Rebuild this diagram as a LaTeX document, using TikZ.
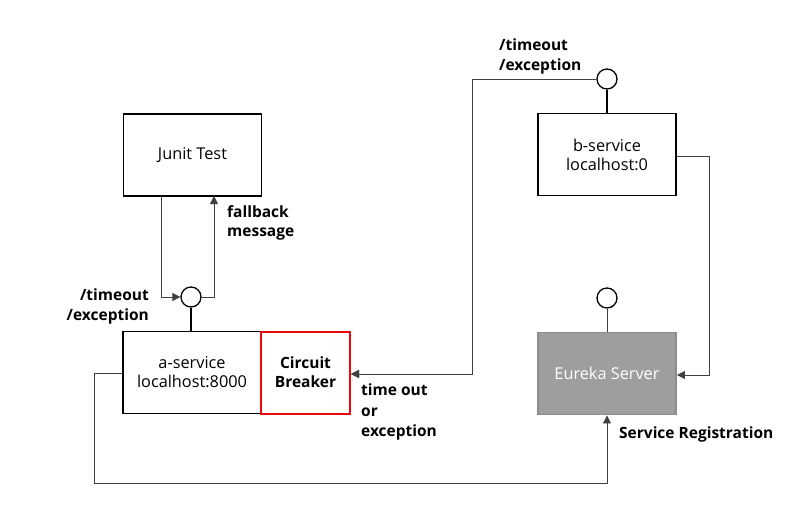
\documentclass[tikz,border=0pt]{standalone}
\usepackage{fontspec}
\setmainfont{Open Sans}
\usetikzlibrary{arrows.meta}
\definecolor{cbred}{RGB}{230,10,10}
\begin{document}
\begin{tikzpicture}[x=1pt,y=-1pt,
  box/.style={draw=black,line width=1.9pt,minimum width=138pt,minimum height=82pt,font=\fontsize{16.3}{19}\selectfont,align=center,inner sep=0pt},
  ball/.style={draw=black,line width=1.3pt,circle,minimum size=20pt,inner sep=0pt,fill=white},
  stem/.style={line width=1.7pt},
  conn/.style={line width=0.8pt,draw=black!75},
  arr/.style={conn,-{Triangle[length=8pt,width=8pt]}},
  lbl/.style={font=\fontsize{15.5}{19.5}\selectfont\bfseries,align=left,inner sep=0pt}]
\useasboundingbox (0,0) rectangle (800,515);
\fill[white] (0,0) rectangle (800,515);
% boxes
\node[box] (junit) at (192.5,155) {Junit Test};
\node[box] (asvc) at (192,372.5) {a-service\\localhost:8000};
\node[box,draw=cbred,line width=2pt,minimum width=89pt,font=\fontsize{15.5}{19}\selectfont\bfseries] (cb) at (305.5,372.5) {Circuit\\Breaker};
\node[box] (bsvc) at (607,154.5) {b-service\\localhost:0};
\node[box,fill=black!38,draw=black!45,text=white] (eureka) at (607,373.5) {Eureka Server};
% balls
\node[ball] (ca) at (191,297) {};
\node[ball] (cb2) at (607,79) {};
\node[ball] (ce) at (607,298) {};
\draw[stem] (ca.south) -- (ca.south |- asvc.north);
\draw[stem] (cb2.south) -- (cb2.south |- bsvc.north);
\draw[conn,line width=1pt] (ce.south) -- (ce.south |- eureka.north);
% junit connectors
\coordinate (j1) at (161,196);
\coordinate (j2) at (214,196);
\draw[arr] (j1) -- (161,297) -- (ca.west);
\draw[arr] (ca.east) -- (214,297) -- (j2);
% circuit breaker to b-service
\coordinate (cbr) at (cb.east |- 0,374);
\draw[arr] (cb2.west) -- (472,79) -- (472,374) -- (cbr);
\draw[arr] (472,374) -- (cbr);
% b-service to eureka
\coordinate (bs) at (bsvc.east |- 0,156);
\coordinate (er) at (eureka.east |- 0,375);
\draw[arr] (bs) -- (709,156) -- (709,375) -- (er);
% a-service registration
\coordinate (as) at (asvc.west |- 0,373);
\coordinate (eb) at (eureka.south);
\draw[arr] (as) -- (94,373) -- (94,483) -- (607,483) -- (eb);
% labels
\node[lbl,anchor=north east,align=right] (l1) at (149,289) {/timeout\\/exception};
\node[lbl,anchor=north west] (l2) at (227,205) {fallback\\message};
\node[lbl,anchor=north west] (l3) at (499,39) {/timeout\\/exception};
\node[lbl,anchor=north west,font=\fontsize{15.5}{20.5}\selectfont\bfseries] (l4) at (361,384) {time out\\or\\exception};
\node[lbl,anchor=north west] (l5) at (619,427) {Service Registration};
\end{tikzpicture}
\end{document}
